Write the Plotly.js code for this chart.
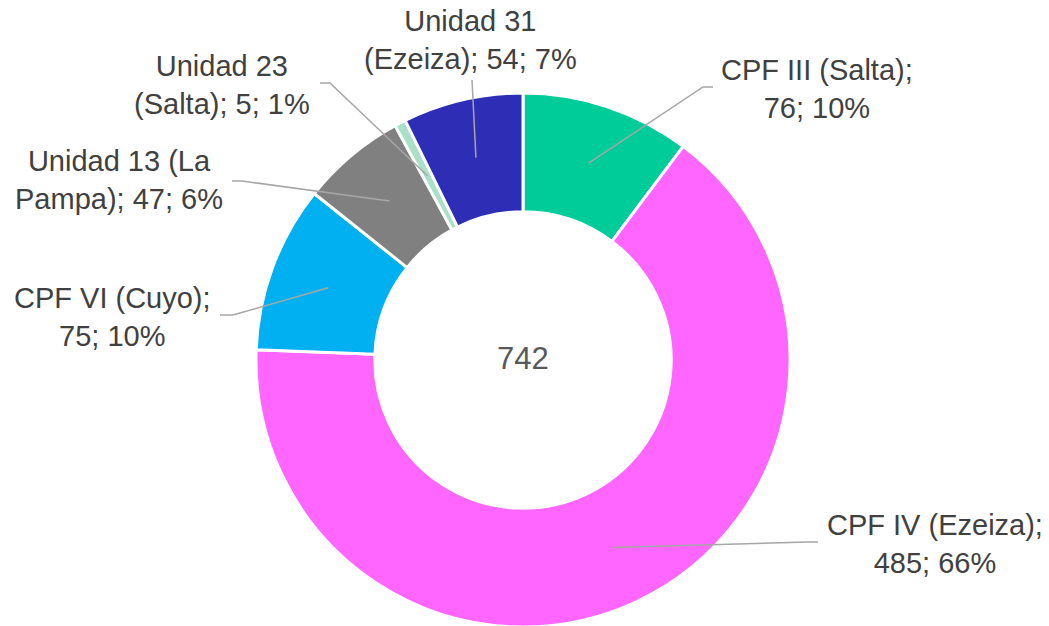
<!DOCTYPE html>
<html>
<head>
<meta charset="utf-8">
<script src="https://cdn.plot.ly/plotly-3.0.1.min.js"></script>
<style>
  html, body { margin: 0; padding: 0; overflow: hidden; background: #fff; }
  #chart { width: 1049px; height: 627px; }
</style>
</head>
<body>
<div id="chart"></div>
<script>
// ---- data ----
const categories = ["CPF III (Salta)", "CPF IV (Ezeiza)", "CPF VI (Cuyo)", "Unidad 13 (La Pampa)", "Unidad 23 (Salta)", "Unidad 31 (Ezeiza)"];
const values = [76, 485, 75, 47, 5, 54];
const percents = [10, 66, 10, 6, 1, 7];   // as printed on the chart
const colors = ["#00CC99", "#FF66FF", "#00B0F0", "#808080", "#A8E0C8", "#2E2DB6"];

// ---- layout configuration ----
const W = 1049, H = 627;
const cx = 523, cy = 360, rOuter = 267, holeFrac = 0.555;
const rInner = rOuter * holeFrac;
const rMid = (rOuter + rInner) / 2;
// words on the first line of each label
const firstLineWords = [3, 3, 3, 3, 2, 2];
// label text centre, leader elbow and leader end (pixels)
const labelPos = [
  {tx: 817, ty: 89,  ex: 703, ey: 87,  lx: 713, ly: 87},
  {tx: 935, ty: 544, ex: 808, ey: 542, lx: 818, ly: 542},
  {tx: 112, ty: 317, ex: 233, ey: 315, lx: 220, ly: 315},
  {tx: 119, ty: 180, ex: 242, ey: 181, lx: 232, ly: 181},
  {tx: 222, ty: 85,  ex: 330, ey: 83,  lx: 320, ly: 83},
  {tx: 470, ty: 40,  ex: 472, ey: 80,  lx: 472, ly: 80}
];

const px = x => x / W;
const py = y => 1 - y / H;

const total = values.reduce((a, b) => a + b, 0);

const trace = {
  type: "pie",
  labels: categories,
  values: values,
  sort: false,
  direction: "clockwise",
  rotation: 0,
  hole: holeFrac,
  textinfo: "none",
  hoverinfo: "none",
  showlegend: false,
  marker: { colors: colors, line: { color: "#FFFFFF", width: 3 } },
  domain: {
    x: [px(cx - rOuter), px(cx + rOuter)],
    y: [py(cy + rOuter), py(cy - rOuter)]
  }
};

const shapes = [];
const annotations = [];
let cum = 0;
values.forEach((v, i) => {
  const midFrac = (cum + v / 2) / total;
  cum += v;
  const ang = midFrac * 2 * Math.PI;
  const sx = cx + rMid * Math.sin(ang);
  const sy = cy - rMid * Math.cos(ang);
  const p = labelPos[i];
  shapes.push({
    type: "path", xref: "paper", yref: "paper",
    path: `M ${px(sx)},${py(sy)} L ${px(p.ex)},${py(p.ey)} L ${px(p.lx)},${py(p.ly)}`,
    line: { color: "#A6A6A6", width: 1.5 }
  });
  const full = `${categories[i]}; ${v}; ${percents[i]}%`;
  const words = full.split(" ");
  const txt = words.slice(0, firstLineWords[i]).join(" ") + "<br>" + words.slice(firstLineWords[i]).join(" ");
  annotations.push({
    xref: "paper", yref: "paper", x: px(p.tx), y: py(p.ty),
    xanchor: "center", yanchor: "middle", align: "center",
    showarrow: false, text: txt,
    font: { family: "Liberation Sans, Arial, sans-serif", size: 29, color: "#404040" }
  });
});

annotations.push({
  xref: "paper", yref: "paper", x: px(cx), y: py(cy - 2),
  xanchor: "center", yanchor: "middle", showarrow: false,
  text: String(total),
  font: { family: "Liberation Sans, Arial, sans-serif", size: 31, color: "#595959" }
});

const layout = {
  width: W, height: H,
  margin: { l: 0, r: 0, t: 0, b: 0, pad: 0 },
  paper_bgcolor: "#FFFFFF",
  plot_bgcolor: "#FFFFFF",
  showlegend: false,
  shapes: shapes,
  annotations: annotations
};

Plotly.newPlot("chart", [trace], layout, { displayModeBar: false, staticPlot: true });
</script>
</body>
</html>
